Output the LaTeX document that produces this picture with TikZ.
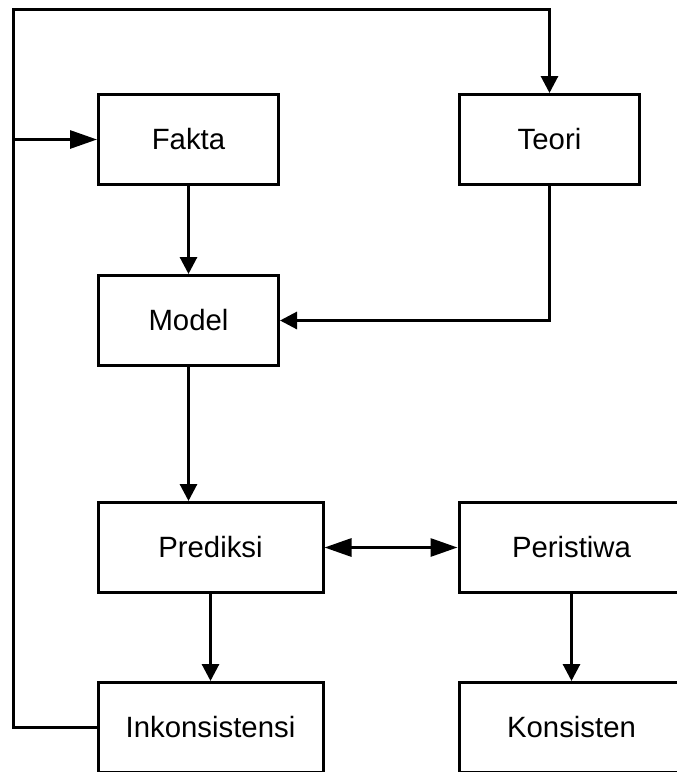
\documentclass[tikz,border=0pt]{standalone}
\usepackage{fontspec}
\setmainfont{Liberation Sans}
\usetikzlibrary{arrows.meta}
\begin{document}
\begin{tikzpicture}[x=0.75pt,y=-0.75pt,
  line width=2.25pt,
  box/.style={draw, line width=2.25pt, minimum height=67.5pt, inner sep=0pt,
    font=\fontsize{22}{26}\selectfont},
  narrow/.style={box, minimum width=135pt},
  wide/.style={box, minimum width=168.75pt},
  conn/.style={line width=2.25pt, -{Triangle[length=12.75pt,width=12.75pt]}},
  longconn/.style={line width=2.25pt, -{Triangle[length=20.25pt,width=13.5pt]}},
  dblconn/.style={line width=2.25pt, {Triangle[length=20.25pt,width=13.5pt]}-{Triangle[length=20.25pt,width=13.5pt]}}
]
\useasboundingbox (0,0) rectangle (676,772);
\node[narrow] (fakta) at (188.5,139.5) {Fakta};
\node[narrow] (teori) at (549.5,139.5) {Teori};
\node[narrow] (model) at (188.5,320.5) {Model};
\node[wide] (prediksi) at (210.5,547.5) {Prediksi};
\node[wide] (peristiwa) at (571.5,547.5) {Peristiwa};
\node[wide] (inkon) at (210.5,727.5) {Inkonsistensi};
\node[wide] (konsisten) at (571.5,727.5) {Konsisten};
\coordinate (tl) at (13.5,9.5);

\draw[conn] (fakta.south) -- (model.north);
\draw[conn] (model.south) -- (model.south |- prediksi.north);
\draw[conn] (prediksi.south) -- (inkon.north);
\draw[conn] (peristiwa.south) -- (konsisten.north);
\draw[dblconn] (prediksi.east) -- (peristiwa.west);
\draw[conn] (teori.south) -- (teori.south |- model.east) -- (model.east);
\draw[conn] (inkon.west) -| (tl) -| (teori.north);
\draw[longconn] (tl |- fakta.west) -- (fakta.west);
\end{tikzpicture}
\end{document}
